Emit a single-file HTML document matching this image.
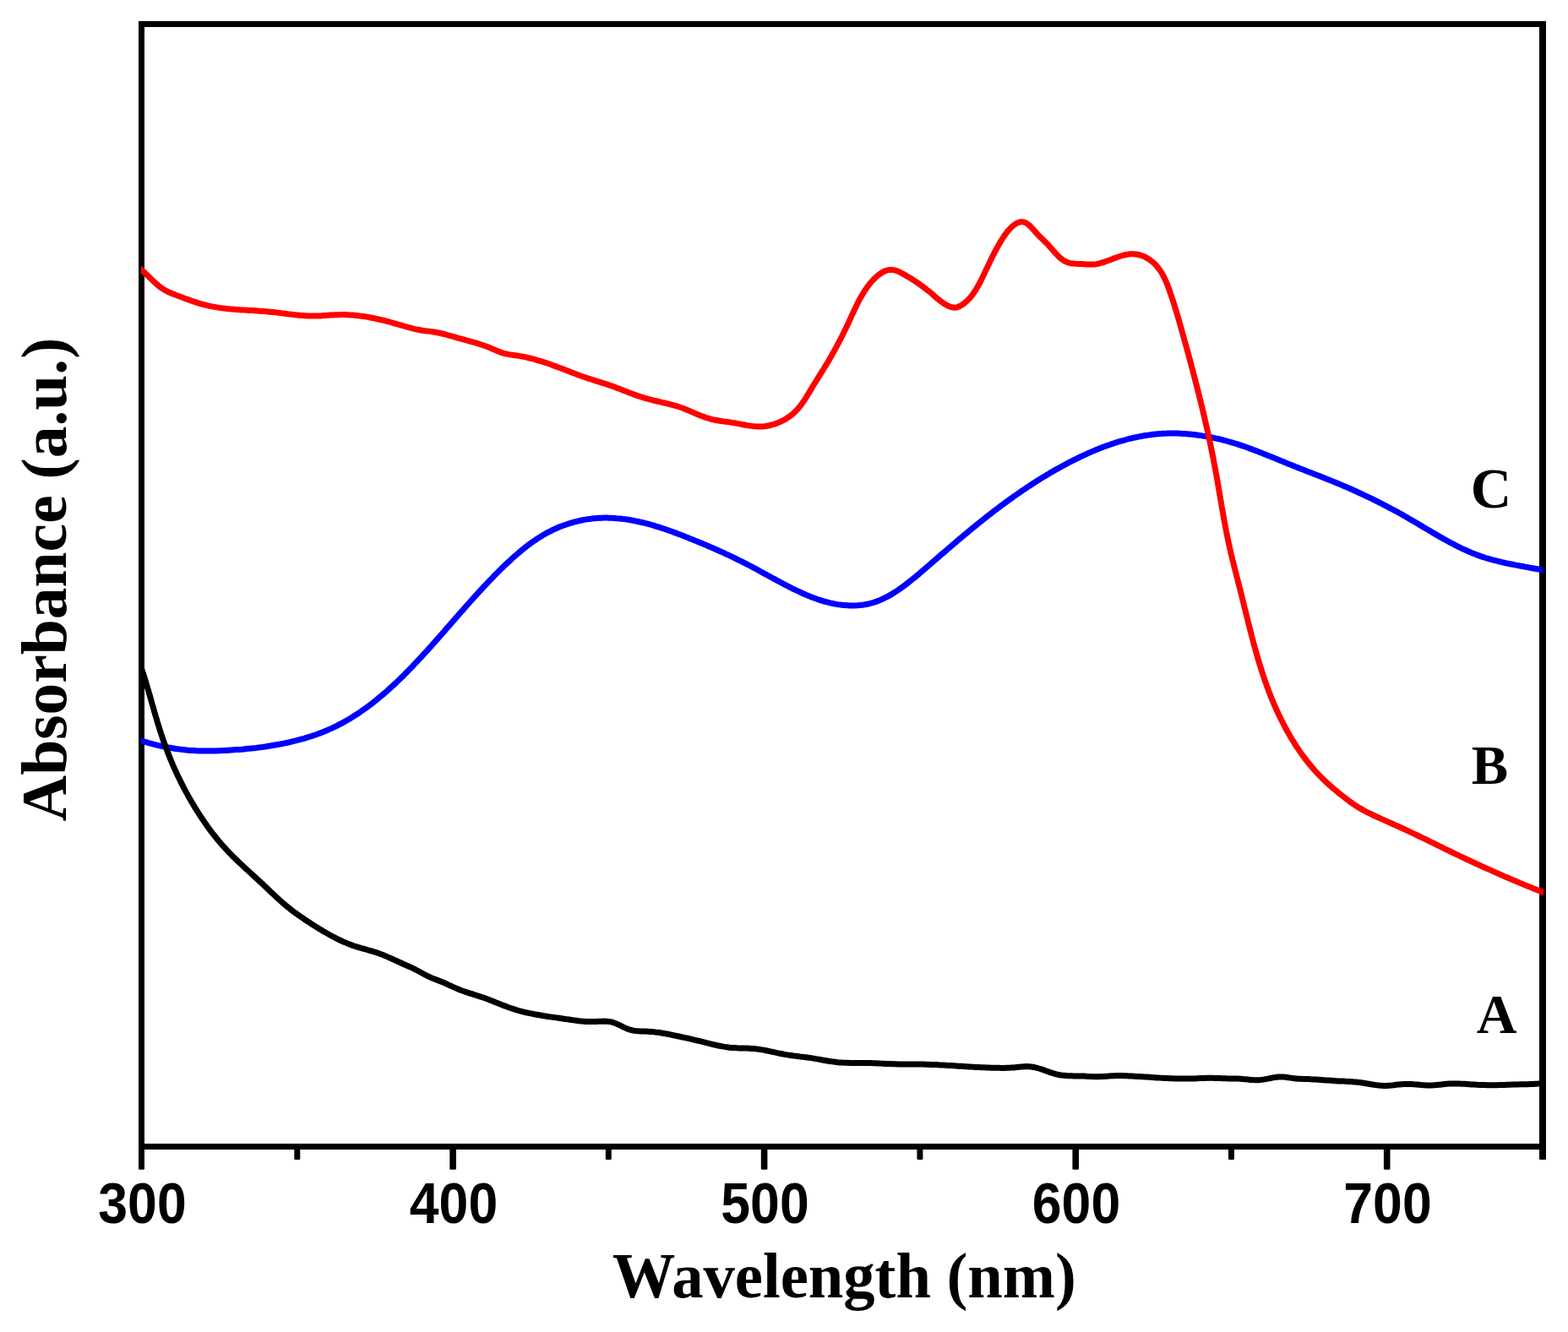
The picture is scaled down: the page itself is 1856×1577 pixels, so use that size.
<!DOCTYPE html>
<html><head><meta charset="utf-8"><style>
html,body{margin:0;padding:0;background:#fff;}
svg{display:block;}
.tk{font-family:"Liberation Sans",Arial,sans-serif;font-weight:bold;font-size:68px;}
.tt{font-family:"Liberation Serif","Times New Roman",serif;font-weight:bold;}
</style></head><body>
<svg width="1856" height="1577" viewBox="0 0 1856 1577">
<rect width="1856" height="1577" fill="#fff"/>
<g fill="#000">
<rect x="164" y="25" width="1666" height="7"/>
<rect x="164" y="1354" width="1666" height="7"/>
<rect x="164" y="25" width="7" height="1336"/>
<rect x="1822" y="25" width="8" height="1336"/>
</g>
<g fill="#000">
<rect x="164.0" y="1358" width="7.0" height="26.8" rx="1.5"/>
<rect x="348.3" y="1358" width="7.0" height="15.0" rx="1.5"/>
<rect x="532.3" y="1358" width="7.6" height="26.8" rx="1.5"/>
<rect x="716.8" y="1358" width="7.0" height="15.0" rx="1.5"/>
<rect x="900.8" y="1358" width="7.6" height="26.8" rx="1.5"/>
<rect x="1085.4" y="1358" width="7.0" height="15.0" rx="1.5"/>
<rect x="1269.4" y="1358" width="7.6" height="26.8" rx="1.5"/>
<rect x="1454.0" y="1358" width="7.0" height="15.0" rx="1.5"/>
<rect x="1637.9" y="1358" width="7.6" height="26.8" rx="1.5"/>
<rect x="1822.0" y="1358" width="8.0" height="15.0" rx="1.5"/>
</g>
<defs><clipPath id="pc"><rect x="167" y="0" width="1660" height="1577"/></clipPath></defs>
<g id="curves" clip-path="url(#pc)" fill="none" stroke-linejoin="round" stroke-linecap="butt" stroke-width="7">
<path stroke="#0000ff" d="M161.3,875.1 L167.3,877.0 L170.2,877.9 L173.1,878.7 L176.0,879.6 L178.9,880.4 L181.8,881.1 L184.7,881.9 L187.6,882.6 L190.6,883.2 L193.5,883.9 L196.4,884.4 L199.4,885.0 L202.3,885.5 L205.3,886.0 L208.2,886.5 L211.2,886.9 L214.2,887.3 L217.1,887.6 L220.1,887.9 L223.1,888.2 L226.1,888.4 L229.0,888.6 L232.0,888.8 L235.0,888.9 L238.0,889.0 L241.0,889.0 L244.0,889.1 L247.0,889.1 L249.9,889.0 L252.9,889.0 L255.9,888.9 L258.9,888.8 L261.9,888.7 L264.9,888.5 L267.9,888.4 L270.8,888.2 L273.8,888.0 L276.8,887.8 L279.8,887.6 L282.8,887.4 L285.7,887.2 L288.7,886.9 L291.7,886.6 L294.6,886.3 L297.6,886.0 L300.6,885.7 L303.5,885.4 L306.5,885.0 L309.5,884.6 L312.4,884.2 L315.4,883.8 L318.3,883.3 L321.3,882.8 L324.3,882.3 L327.2,881.8 L330.2,881.3 L333.2,880.7 L336.1,880.1 L339.1,879.5 L342.1,878.8 L345.0,878.1 L348.0,877.4 L350.9,876.7 L353.9,875.9 L356.8,875.1 L359.8,874.3 L362.7,873.4 L365.6,872.5 L368.5,871.6 L371.4,870.7 L374.3,869.7 L377.1,868.6 L380.0,867.6 L382.8,866.5 L385.6,865.3 L388.3,864.2 L391.1,862.9 L393.8,861.7 L396.5,860.4 L399.2,859.1 L401.8,857.7 L404.4,856.3 L407.1,854.9 L409.6,853.5 L412.2,852.0 L414.8,850.5 L417.3,848.9 L419.8,847.3 L422.3,845.7 L424.7,844.1 L427.2,842.4 L429.6,840.7 L432.0,839.0 L434.4,837.3 L436.8,835.5 L439.2,833.7 L441.5,831.9 L443.8,830.1 L446.1,828.2 L448.4,826.3 L450.7,824.4 L453.0,822.5 L455.2,820.6 L457.5,818.6 L459.7,816.7 L461.9,814.7 L464.1,812.7 L466.3,810.6 L468.5,808.6 L470.6,806.5 L472.8,804.5 L474.9,802.4 L477.1,800.3 L479.2,798.2 L481.3,796.0 L483.4,793.9 L485.5,791.7 L487.6,789.6 L489.6,787.4 L491.7,785.2 L493.8,783.0 L495.8,780.8 L497.9,778.6 L499.9,776.4 L501.9,774.2 L504.0,772.0 L506.0,769.8 L508.0,767.5 L510.0,765.3 L512.0,763.0 L514.0,760.8 L516.0,758.5 L518.0,756.3 L520.0,754.0 L522.0,751.8 L524.0,749.5 L526.0,747.2 L527.9,744.9 L529.9,742.7 L531.9,740.4 L533.9,738.1 L535.9,735.9 L537.9,733.6 L539.8,731.3 L541.8,729.1 L543.8,726.8 L545.8,724.5 L547.8,722.3 L549.8,720.0 L551.8,717.7 L553.8,715.5 L555.8,713.2 L557.8,711.0 L559.8,708.8 L561.8,706.5 L563.8,704.3 L565.8,702.1 L567.9,699.9 L569.9,697.6 L572.0,695.4 L574.0,693.2 L576.1,691.1 L578.1,688.9 L580.2,686.7 L582.3,684.6 L584.4,682.4 L586.5,680.3 L588.6,678.1 L590.7,676.0 L592.9,673.9 L595.0,671.8 L597.1,669.7 L599.3,667.7 L601.5,665.6 L603.7,663.6 L605.9,661.5 L608.1,659.5 L610.3,657.6 L612.6,655.6 L614.9,653.7 L617.2,651.8 L619.5,649.9 L621.8,648.0 L624.1,646.2 L626.5,644.4 L628.9,642.7 L631.3,641.0 L633.8,639.3 L636.2,637.7 L638.7,636.1 L641.2,634.5 L643.8,633.0 L646.3,631.5 L648.9,630.1 L651.6,628.8 L654.2,627.4 L656.9,626.2 L659.6,625.0 L662.4,623.8 L665.2,622.7 L668.0,621.7 L670.9,620.7 L673.7,619.8 L676.6,618.9 L679.5,618.1 L682.5,617.3 L685.4,616.6 L688.4,616.0 L691.3,615.4 L694.3,614.9 L697.3,614.5 L700.3,614.1 L703.3,613.8 L706.3,613.5 L709.3,613.3 L712.3,613.2 L715.3,613.1 L718.3,613.1 L721.3,613.2 L724.2,613.3 L727.2,613.4 L730.2,613.7 L733.2,613.9 L736.1,614.3 L739.1,614.6 L742.1,615.0 L745.0,615.5 L748.0,616.0 L750.9,616.6 L753.8,617.2 L756.8,617.8 L759.7,618.5 L762.6,619.2 L765.6,619.9 L768.5,620.7 L771.4,621.5 L774.3,622.4 L777.2,623.3 L780.1,624.2 L782.9,625.1 L785.8,626.0 L788.7,627.0 L791.5,628.0 L794.4,629.0 L797.2,630.1 L800.1,631.1 L802.9,632.2 L805.7,633.3 L808.5,634.3 L811.3,635.4 L814.1,636.6 L816.9,637.7 L819.7,638.8 L822.5,639.9 L825.2,641.1 L828.0,642.2 L830.7,643.3 L833.5,644.5 L836.2,645.6 L838.9,646.8 L841.6,648.0 L844.3,649.1 L847.0,650.3 L849.7,651.5 L852.4,652.7 L855.1,653.9 L857.8,655.2 L860.5,656.4 L863.1,657.6 L865.8,658.9 L868.5,660.2 L871.1,661.5 L873.8,662.8 L876.5,664.1 L879.1,665.4 L881.8,666.8 L884.4,668.1 L887.1,669.5 L889.7,670.9 L892.4,672.3 L895.1,673.8 L897.7,675.2 L900.4,676.7 L903.0,678.1 L905.7,679.6 L908.4,681.0 L911.0,682.5 L913.7,684.0 L916.4,685.4 L919.1,686.9 L921.8,688.3 L924.5,689.8 L927.1,691.2 L929.9,692.6 L932.6,694.0 L935.3,695.4 L938.0,696.8 L940.7,698.1 L943.5,699.4 L946.2,700.7 L949.0,702.0 L951.7,703.2 L954.5,704.4 L957.3,705.6 L960.1,706.7 L962.9,707.7 L965.7,708.8 L968.5,709.8 L971.3,710.7 L974.2,711.6 L977.0,712.4 L979.9,713.2 L982.8,713.9 L985.7,714.5 L988.6,715.1 L991.5,715.6 L994.5,716.0 L997.4,716.4 L1000.3,716.6 L1003.3,716.8 L1006.2,717.0 L1009.1,717.0 L1012.0,716.9 L1015.0,716.8 L1017.8,716.6 L1020.7,716.2 L1023.6,715.8 L1026.4,715.3 L1029.2,714.6 L1032.0,713.9 L1034.8,713.1 L1037.5,712.1 L1040.3,711.1 L1043.0,709.9 L1045.6,708.7 L1048.3,707.4 L1050.9,706.1 L1053.5,704.6 L1056.1,703.1 L1058.7,701.5 L1061.2,699.9 L1063.7,698.2 L1066.2,696.4 L1068.7,694.6 L1071.2,692.8 L1073.7,690.9 L1076.1,689.0 L1078.5,687.1 L1080.9,685.1 L1083.3,683.2 L1085.7,681.2 L1088.1,679.2 L1090.5,677.1 L1092.8,675.1 L1095.1,673.1 L1097.5,671.1 L1099.8,669.1 L1102.1,667.1 L1104.4,665.1 L1106.7,663.1 L1109.0,661.2 L1111.3,659.2 L1113.5,657.2 L1115.8,655.2 L1118.1,653.3 L1120.4,651.3 L1122.6,649.4 L1124.9,647.5 L1127.1,645.5 L1129.4,643.6 L1131.7,641.7 L1133.9,639.7 L1136.2,637.8 L1138.5,635.9 L1140.7,634.0 L1143.0,632.1 L1145.3,630.2 L1147.5,628.3 L1149.8,626.4 L1152.1,624.6 L1154.4,622.7 L1156.7,620.8 L1159.0,619.0 L1161.3,617.1 L1163.7,615.3 L1166.0,613.4 L1168.3,611.6 L1170.6,609.8 L1173.0,607.9 L1175.3,606.1 L1177.7,604.3 L1180.1,602.5 L1182.4,600.7 L1184.8,598.9 L1187.2,597.2 L1189.6,595.4 L1192.0,593.6 L1194.4,591.9 L1196.8,590.2 L1199.2,588.4 L1201.7,586.7 L1204.1,585.0 L1206.5,583.3 L1209.0,581.6 L1211.5,579.9 L1213.9,578.3 L1216.4,576.6 L1218.9,575.0 L1221.4,573.3 L1223.9,571.7 L1226.5,570.1 L1229.0,568.5 L1231.5,566.9 L1234.1,565.3 L1236.7,563.8 L1239.2,562.2 L1241.8,560.7 L1244.4,559.1 L1247.0,557.6 L1249.6,556.1 L1252.3,554.7 L1254.9,553.2 L1257.6,551.7 L1260.2,550.3 L1262.9,548.9 L1265.6,547.4 L1268.3,546.1 L1271.0,544.7 L1273.8,543.3 L1276.5,542.0 L1279.2,540.7 L1282.0,539.4 L1284.8,538.1 L1287.5,536.8 L1290.3,535.6 L1293.1,534.4 L1295.9,533.2 L1298.7,532.1 L1301.5,530.9 L1304.3,529.8 L1307.2,528.8 L1310.0,527.7 L1312.9,526.7 L1315.7,525.7 L1318.6,524.8 L1321.4,523.8 L1324.3,522.9 L1327.2,522.1 L1330.1,521.3 L1333.0,520.5 L1335.9,519.7 L1338.8,519.0 L1341.7,518.3 L1344.6,517.7 L1347.5,517.1 L1350.4,516.5 L1353.3,516.0 L1356.3,515.5 L1359.2,515.1 L1362.1,514.7 L1365.0,514.3 L1368.0,514.0 L1370.9,513.7 L1373.9,513.5 L1376.8,513.3 L1379.8,513.2 L1382.7,513.1 L1385.6,513.0 L1388.6,513.0 L1391.5,513.1 L1394.5,513.1 L1397.4,513.3 L1400.4,513.4 L1403.3,513.6 L1406.3,513.9 L1409.2,514.1 L1412.2,514.4 L1415.1,514.8 L1418.1,515.2 L1421.0,515.6 L1424.0,516.1 L1426.9,516.5 L1429.8,517.1 L1432.8,517.6 L1435.7,518.2 L1438.6,518.9 L1441.6,519.5 L1444.5,520.2 L1447.4,520.9 L1450.3,521.7 L1453.2,522.5 L1456.1,523.3 L1459.0,524.2 L1461.9,525.0 L1464.8,525.9 L1467.7,526.9 L1470.5,527.8 L1473.4,528.8 L1476.3,529.8 L1479.1,530.9 L1482.0,531.9 L1484.8,533.0 L1487.7,534.1 L1490.5,535.2 L1493.4,536.3 L1496.2,537.4 L1499.0,538.5 L1501.8,539.7 L1504.7,540.8 L1507.5,542.0 L1510.3,543.1 L1513.1,544.3 L1515.9,545.4 L1518.7,546.6 L1521.5,547.7 L1524.3,548.9 L1527.1,550.0 L1529.8,551.1 L1532.6,552.2 L1535.4,553.4 L1538.2,554.4 L1540.9,555.5 L1543.7,556.6 L1546.5,557.7 L1549.2,558.8 L1552.0,559.8 L1554.8,560.9 L1557.5,562.0 L1560.3,563.0 L1563.0,564.1 L1565.8,565.2 L1568.5,566.3 L1571.3,567.4 L1574.0,568.4 L1576.8,569.6 L1579.5,570.7 L1582.2,571.8 L1585.0,572.9 L1587.7,574.1 L1590.4,575.3 L1593.2,576.4 L1595.9,577.6 L1598.6,578.8 L1601.4,580.0 L1604.1,581.3 L1606.8,582.5 L1609.5,583.8 L1612.2,585.0 L1615.0,586.3 L1617.7,587.6 L1620.4,588.9 L1623.1,590.2 L1625.8,591.5 L1628.5,592.8 L1631.1,594.2 L1633.8,595.5 L1636.5,596.9 L1639.2,598.3 L1641.8,599.7 L1644.5,601.1 L1647.2,602.5 L1649.8,603.9 L1652.5,605.3 L1655.1,606.8 L1657.8,608.3 L1660.4,609.7 L1663.0,611.2 L1665.6,612.7 L1668.2,614.2 L1670.8,615.7 L1673.4,617.3 L1676.0,618.8 L1678.6,620.3 L1681.2,621.9 L1683.8,623.4 L1686.4,625.0 L1689.0,626.5 L1691.6,628.0 L1694.2,629.6 L1696.8,631.1 L1699.4,632.6 L1702.0,634.1 L1704.6,635.6 L1707.2,637.1 L1709.8,638.6 L1712.4,640.0 L1715.0,641.5 L1717.6,642.9 L1720.3,644.2 L1722.9,645.6 L1725.6,647.0 L1728.3,648.3 L1730.9,649.6 L1733.6,650.8 L1736.3,652.0 L1739.1,653.2 L1741.8,654.4 L1744.5,655.5 L1747.3,656.6 L1750.1,657.6 L1752.9,658.6 L1755.7,659.6 L1758.5,660.5 L1761.4,661.3 L1764.2,662.2 L1767.1,663.0 L1770.0,663.7 L1772.9,664.4 L1775.8,665.1 L1778.8,665.8 L1781.7,666.5 L1784.6,667.1 L1787.6,667.7 L1790.5,668.3 L1793.5,668.9 L1796.5,669.4 L1799.4,670.0 L1802.4,670.5 L1805.4,671.1 L1808.3,671.6 L1811.3,672.2 L1814.2,672.7 L1817.2,673.3 L1820.1,673.8 L1823.1,674.4 L1826.0,675.0 L1832.0,676.2"/>
<path stroke="#000000" d="M161.5,773.6 L167.5,791.5 L168.4,794.3 L169.4,797.1 L170.3,800.0 L171.2,802.8 L172.1,805.7 L172.9,808.5 L173.8,811.4 L174.6,814.3 L175.5,817.2 L176.3,820.1 L177.1,822.9 L178.0,825.8 L178.8,828.7 L179.6,831.6 L180.4,834.5 L181.3,837.4 L182.1,840.3 L182.9,843.2 L183.8,846.1 L184.6,849.0 L185.5,851.9 L186.3,854.8 L187.2,857.6 L188.1,860.5 L189.0,863.4 L189.9,866.2 L190.8,869.1 L191.8,871.9 L192.7,874.8 L193.7,877.6 L194.7,880.4 L195.7,883.2 L196.7,886.0 L197.8,888.8 L198.9,891.6 L200.0,894.4 L201.1,897.1 L202.2,899.9 L203.4,902.6 L204.5,905.4 L205.7,908.1 L206.9,910.8 L208.2,913.5 L209.4,916.2 L210.7,918.9 L212.0,921.6 L213.3,924.3 L214.6,927.0 L216.0,929.6 L217.3,932.3 L218.7,934.9 L220.2,937.6 L221.6,940.2 L223.0,942.8 L224.5,945.4 L226.0,948.0 L227.5,950.6 L229.1,953.2 L230.6,955.8 L232.2,958.4 L233.8,960.9 L235.4,963.5 L237.1,966.0 L238.8,968.5 L240.5,971.1 L242.2,973.6 L243.9,976.0 L245.7,978.5 L247.4,980.9 L249.2,983.4 L251.0,985.8 L252.9,988.2 L254.7,990.5 L256.6,992.9 L258.5,995.2 L260.5,997.5 L262.4,999.7 L264.4,1002.0 L266.4,1004.2 L268.4,1006.3 L270.4,1008.5 L272.5,1010.6 L274.5,1012.7 L276.6,1014.8 L278.7,1016.9 L280.8,1018.9 L283.0,1021.0 L285.1,1023.0 L287.3,1025.0 L289.4,1027.0 L291.6,1029.0 L293.8,1031.0 L296.0,1033.0 L298.2,1035.0 L300.4,1037.1 L302.6,1039.1 L304.8,1041.1 L307.0,1043.1 L309.2,1045.2 L311.4,1047.2 L313.6,1049.3 L315.8,1051.4 L318.0,1053.5 L320.2,1055.6 L322.5,1057.7 L324.7,1059.8 L326.9,1061.9 L329.1,1063.9 L331.4,1066.0 L333.6,1068.0 L335.9,1070.0 L338.1,1071.9 L340.4,1073.8 L342.7,1075.6 L345.0,1077.4 L347.4,1079.2 L349.7,1080.9 L352.1,1082.6 L354.5,1084.3 L356.9,1086.0 L359.4,1087.6 L361.8,1089.3 L364.3,1091.0 L366.9,1092.6 L369.4,1094.3 L372.0,1095.9 L374.6,1097.6 L377.2,1099.2 L379.8,1100.8 L382.5,1102.4 L385.2,1104.0 L387.9,1105.5 L390.6,1107.0 L393.3,1108.5 L396.0,1109.9 L398.7,1111.3 L401.5,1112.7 L404.2,1114.0 L407.0,1115.2 L409.8,1116.4 L412.5,1117.5 L415.3,1118.6 L418.0,1119.6 L420.8,1120.5 L423.6,1121.4 L426.3,1122.2 L429.1,1123.0 L431.8,1123.7 L434.6,1124.5 L437.3,1125.3 L440.1,1126.0 L442.8,1126.9 L445.5,1127.7 L448.3,1128.7 L451.0,1129.7 L453.8,1130.8 L456.5,1131.9 L459.2,1133.1 L462.0,1134.3 L464.7,1135.5 L467.4,1136.8 L470.2,1138.0 L472.9,1139.3 L475.7,1140.5 L478.4,1141.8 L481.1,1143.0 L483.9,1144.2 L486.6,1145.4 L489.3,1146.7 L492.1,1148.1 L494.8,1149.5 L497.6,1151.0 L500.3,1152.5 L503.1,1154.0 L505.8,1155.4 L508.5,1156.7 L511.3,1157.9 L514.1,1159.0 L516.8,1160.1 L519.6,1161.1 L522.3,1162.2 L525.1,1163.3 L527.8,1164.5 L530.6,1165.8 L533.4,1167.1 L536.1,1168.4 L538.9,1169.6 L541.7,1170.8 L544.5,1171.9 L547.3,1173.0 L550.1,1174.0 L552.8,1174.9 L555.6,1175.8 L558.4,1176.7 L561.2,1177.6 L564.0,1178.5 L566.8,1179.4 L569.7,1180.3 L572.5,1181.3 L575.3,1182.3 L578.1,1183.3 L580.9,1184.4 L583.8,1185.5 L586.6,1186.7 L589.4,1187.8 L592.3,1188.9 L595.1,1190.1 L598.0,1191.1 L600.8,1192.2 L603.7,1193.2 L606.5,1194.2 L609.4,1195.1 L612.3,1196.0 L615.1,1196.8 L618.0,1197.6 L620.9,1198.3 L623.8,1199.0 L626.7,1199.6 L629.5,1200.2 L632.4,1200.8 L635.3,1201.3 L638.2,1201.8 L641.1,1202.3 L644.0,1202.8 L647.0,1203.2 L649.9,1203.7 L652.8,1204.1 L655.7,1204.5 L658.6,1204.9 L661.6,1205.3 L664.5,1205.8 L667.4,1206.2 L670.4,1206.6 L673.3,1207.0 L676.3,1207.5 L679.2,1207.9 L682.2,1208.3 L685.2,1208.7 L688.1,1209.0 L691.1,1209.2 L694.0,1209.5 L697.0,1209.6 L700.0,1209.6 L702.9,1209.6 L705.9,1209.4 L708.8,1209.3 L711.8,1209.2 L714.7,1209.1 L717.7,1209.2 L720.6,1209.4 L723.5,1209.9 L726.5,1210.8 L729.4,1211.9 L732.3,1213.2 L735.2,1214.6 L738.1,1216.1 L741.0,1217.4 L744.0,1218.6 L746.9,1219.5 L749.8,1220.1 L752.7,1220.5 L755.6,1220.7 L758.5,1220.9 L761.4,1221.0 L764.3,1221.1 L767.2,1221.2 L770.1,1221.4 L773.0,1221.6 L775.9,1222.0 L778.8,1222.3 L781.7,1222.8 L784.6,1223.3 L787.5,1223.8 L790.4,1224.3 L793.4,1224.9 L796.3,1225.5 L799.2,1226.1 L802.1,1226.7 L805.0,1227.3 L808.0,1228.0 L810.9,1228.6 L813.8,1229.2 L816.7,1229.9 L819.7,1230.6 L822.6,1231.3 L825.5,1232.0 L828.4,1232.7 L831.4,1233.4 L834.3,1234.1 L837.2,1234.9 L840.2,1235.6 L843.1,1236.3 L846.0,1237.0 L849.0,1237.7 L851.9,1238.3 L854.9,1238.9 L857.8,1239.4 L860.7,1239.8 L863.7,1240.2 L866.6,1240.4 L869.6,1240.6 L872.5,1240.8 L875.5,1240.9 L878.4,1240.9 L881.4,1241.0 L884.3,1241.1 L887.3,1241.2 L890.3,1241.4 L893.2,1241.6 L896.2,1242.0 L899.1,1242.4 L902.1,1242.9 L905.1,1243.4 L908.0,1244.0 L911.0,1244.6 L914.0,1245.3 L916.9,1245.9 L919.9,1246.6 L922.9,1247.2 L925.8,1247.8 L928.8,1248.4 L931.8,1248.9 L934.8,1249.3 L937.7,1249.7 L940.7,1250.1 L943.7,1250.5 L946.7,1250.9 L949.6,1251.2 L952.6,1251.6 L955.6,1252.0 L958.6,1252.4 L961.6,1252.9 L964.5,1253.4 L967.5,1253.9 L970.5,1254.4 L973.5,1255.0 L976.5,1255.5 L979.5,1256.0 L982.4,1256.5 L985.4,1256.9 L988.4,1257.3 L991.4,1257.7 L994.4,1257.9 L997.4,1258.1 L1000.4,1258.2 L1003.4,1258.3 L1006.4,1258.4 L1009.3,1258.4 L1012.3,1258.4 L1015.3,1258.4 L1018.3,1258.4 L1021.3,1258.4 L1024.3,1258.4 L1027.3,1258.5 L1030.3,1258.5 L1033.3,1258.7 L1036.3,1258.8 L1039.2,1258.9 L1042.2,1259.1 L1045.2,1259.2 L1048.2,1259.4 L1051.2,1259.5 L1054.2,1259.6 L1057.2,1259.7 L1060.2,1259.8 L1063.2,1259.9 L1066.2,1259.9 L1069.2,1259.9 L1072.1,1259.9 L1075.1,1259.9 L1078.1,1259.9 L1081.1,1260.0 L1084.1,1260.0 L1087.1,1260.0 L1090.1,1260.0 L1093.1,1260.1 L1096.1,1260.2 L1099.0,1260.3 L1102.0,1260.4 L1105.0,1260.5 L1108.0,1260.6 L1111.0,1260.8 L1114.0,1260.9 L1116.9,1261.1 L1119.9,1261.3 L1122.9,1261.4 L1125.9,1261.6 L1128.9,1261.8 L1131.8,1262.0 L1134.8,1262.2 L1137.8,1262.3 L1140.8,1262.5 L1143.8,1262.7 L1146.7,1262.9 L1149.7,1263.1 L1152.7,1263.2 L1155.6,1263.4 L1158.6,1263.5 L1161.6,1263.7 L1164.6,1263.8 L1167.5,1264.0 L1170.5,1264.1 L1173.5,1264.2 L1176.4,1264.2 L1179.4,1264.3 L1182.4,1264.3 L1185.3,1264.4 L1188.3,1264.4 L1191.2,1264.3 L1194.2,1264.3 L1197.2,1264.1 L1200.1,1263.9 L1203.1,1263.6 L1206.1,1263.3 L1209.0,1263.0 L1212.0,1262.7 L1214.9,1262.6 L1217.9,1262.7 L1220.9,1263.0 L1223.8,1263.5 L1226.8,1264.1 L1229.7,1265.0 L1232.7,1265.9 L1235.7,1266.9 L1238.6,1268.0 L1241.6,1269.1 L1244.6,1270.1 L1247.5,1271.0 L1250.5,1271.8 L1253.4,1272.5 L1256.4,1273.0 L1259.4,1273.3 L1262.3,1273.6 L1265.3,1273.7 L1268.3,1273.8 L1271.2,1273.9 L1274.2,1273.9 L1277.2,1273.9 L1280.2,1274.0 L1283.1,1274.1 L1286.1,1274.3 L1289.1,1274.4 L1292.1,1274.6 L1295.0,1274.7 L1298.0,1274.8 L1301.0,1274.8 L1304.0,1274.6 L1306.9,1274.4 L1309.9,1274.2 L1312.9,1274.0 L1315.9,1273.8 L1318.9,1273.7 L1321.8,1273.6 L1324.8,1273.6 L1327.8,1273.6 L1330.8,1273.7 L1333.8,1273.8 L1336.8,1273.9 L1339.8,1274.0 L1342.7,1274.2 L1345.7,1274.4 L1348.7,1274.5 L1351.7,1274.7 L1354.7,1274.9 L1357.7,1275.1 L1360.7,1275.3 L1363.6,1275.5 L1366.6,1275.7 L1369.6,1275.9 L1372.6,1276.1 L1375.6,1276.2 L1378.6,1276.4 L1381.6,1276.5 L1384.6,1276.7 L1387.6,1276.8 L1390.5,1276.9 L1393.5,1277.0 L1396.5,1277.1 L1399.5,1277.1 L1402.5,1277.1 L1405.5,1277.1 L1408.5,1277.0 L1411.5,1277.0 L1414.4,1276.9 L1417.4,1276.7 L1420.4,1276.6 L1423.4,1276.5 L1426.4,1276.4 L1429.4,1276.3 L1432.4,1276.3 L1435.3,1276.3 L1438.3,1276.4 L1441.3,1276.5 L1444.3,1276.6 L1447.3,1276.7 L1450.3,1276.8 L1453.2,1276.9 L1456.2,1276.9 L1459.2,1277.0 L1462.2,1277.0 L1465.2,1277.1 L1468.1,1277.3 L1471.1,1277.6 L1474.1,1277.8 L1477.1,1278.1 L1480.1,1278.4 L1483.1,1278.6 L1486.0,1278.7 L1489.0,1278.7 L1492.0,1278.5 L1495.0,1278.1 L1498.0,1277.6 L1500.9,1277.1 L1503.9,1276.5 L1506.9,1275.9 L1509.9,1275.4 L1512.8,1275.1 L1515.8,1274.9 L1518.8,1275.0 L1521.8,1275.3 L1524.8,1275.7 L1527.7,1276.1 L1530.7,1276.6 L1533.7,1276.9 L1536.7,1277.2 L1539.6,1277.3 L1542.6,1277.4 L1545.6,1277.5 L1548.6,1277.6 L1551.6,1277.8 L1554.5,1277.9 L1557.5,1278.1 L1560.5,1278.3 L1563.5,1278.5 L1566.4,1278.7 L1569.4,1278.9 L1572.4,1279.1 L1575.4,1279.3 L1578.4,1279.5 L1581.3,1279.7 L1584.3,1279.9 L1587.3,1280.0 L1590.3,1280.1 L1593.2,1280.3 L1596.2,1280.4 L1599.2,1280.6 L1602.2,1280.9 L1605.1,1281.1 L1608.1,1281.4 L1611.1,1281.8 L1614.1,1282.2 L1617.1,1282.7 L1620.0,1283.2 L1623.0,1283.7 L1626.0,1284.2 L1629.0,1284.6 L1631.9,1285.0 L1634.9,1285.2 L1637.9,1285.4 L1640.9,1285.4 L1643.9,1285.2 L1646.8,1285.0 L1649.8,1284.7 L1652.8,1284.3 L1655.8,1284.0 L1658.8,1283.7 L1661.7,1283.5 L1664.7,1283.4 L1667.7,1283.4 L1670.7,1283.5 L1673.7,1283.8 L1676.6,1284.0 L1679.6,1284.3 L1682.6,1284.6 L1685.6,1284.8 L1688.6,1285.0 L1691.5,1285.0 L1694.5,1284.9 L1697.5,1284.8 L1700.5,1284.5 L1703.5,1284.2 L1706.4,1283.9 L1709.4,1283.6 L1712.4,1283.3 L1715.4,1283.1 L1718.4,1283.0 L1721.4,1282.9 L1724.3,1282.9 L1727.3,1283.0 L1730.3,1283.2 L1733.3,1283.3 L1736.3,1283.5 L1739.3,1283.7 L1742.3,1283.9 L1745.2,1284.1 L1748.2,1284.3 L1751.2,1284.4 L1754.2,1284.5 L1757.2,1284.6 L1760.2,1284.7 L1763.2,1284.7 L1766.2,1284.7 L1769.1,1284.7 L1772.1,1284.7 L1775.1,1284.6 L1778.1,1284.5 L1781.1,1284.4 L1784.1,1284.3 L1787.1,1284.2 L1790.1,1284.1 L1793.1,1284.0 L1796.1,1283.9 L1799.1,1283.8 L1802.0,1283.8 L1805.0,1283.7 L1808.0,1283.7 L1811.0,1283.5 L1814.0,1283.4 L1817.0,1283.2 L1820.0,1283.0 L1823.0,1282.7 L1826.0,1282.3 L1832.0,1281.5"/>
<path stroke="#ff0000" d="M161.3,314.4 L167.3,319.4 L169.3,321.1 L171.4,322.9 L173.5,325.0 L175.7,327.1 L177.9,329.3 L180.2,331.5 L182.5,333.7 L184.9,335.9 L187.3,338.0 L189.7,340.0 L192.2,341.7 L194.8,343.3 L197.3,344.7 L199.9,346.0 L202.6,347.1 L205.3,348.1 L208.0,349.2 L210.7,350.2 L213.5,351.3 L216.2,352.3 L219.1,353.4 L221.9,354.4 L224.7,355.4 L227.6,356.5 L230.5,357.4 L233.4,358.4 L236.3,359.3 L239.2,360.1 L242.1,360.9 L245.0,361.6 L247.9,362.3 L250.9,362.9 L253.8,363.4 L256.7,363.9 L259.7,364.4 L262.6,364.8 L265.6,365.1 L268.6,365.5 L271.5,365.8 L274.5,366.0 L277.5,366.3 L280.5,366.5 L283.4,366.7 L286.4,366.9 L289.4,367.1 L292.4,367.3 L295.4,367.5 L298.4,367.6 L301.4,367.8 L304.4,368.0 L307.3,368.2 L310.3,368.4 L313.3,368.6 L316.3,368.9 L319.3,369.2 L322.3,369.5 L325.3,369.8 L328.3,370.1 L331.3,370.5 L334.3,370.9 L337.3,371.3 L340.3,371.7 L343.3,372.0 L346.3,372.4 L349.3,372.8 L352.3,373.1 L355.3,373.4 L358.2,373.6 L361.2,373.8 L364.2,374.0 L367.2,374.1 L370.2,374.1 L373.2,374.1 L376.2,374.0 L379.2,373.9 L382.1,373.7 L385.1,373.5 L388.1,373.3 L391.1,373.1 L394.1,372.9 L397.0,372.8 L400.0,372.7 L403.0,372.6 L406.0,372.6 L408.9,372.6 L411.9,372.8 L414.9,372.9 L417.8,373.1 L420.8,373.4 L423.8,373.7 L426.7,374.1 L429.7,374.5 L432.6,374.9 L435.6,375.4 L438.6,376.0 L441.5,376.5 L444.5,377.2 L447.4,377.8 L450.4,378.5 L453.3,379.2 L456.3,379.9 L459.2,380.7 L462.1,381.5 L465.1,382.3 L468.0,383.1 L471.0,384.0 L473.9,384.8 L476.8,385.7 L479.7,386.5 L482.7,387.4 L485.6,388.1 L488.5,388.9 L491.4,389.6 L494.4,390.2 L497.3,390.8 L500.2,391.3 L503.1,391.7 L506.0,392.0 L508.9,392.4 L511.8,392.8 L514.7,393.2 L517.6,393.7 L520.5,394.3 L523.4,395.0 L526.3,395.7 L529.2,396.5 L532.1,397.3 L535.0,398.1 L537.9,398.9 L540.8,399.8 L543.7,400.6 L546.6,401.4 L549.5,402.2 L552.4,403.0 L555.3,403.8 L558.1,404.6 L561.0,405.4 L563.9,406.2 L566.8,407.1 L569.6,408.0 L572.5,409.0 L575.4,410.0 L578.3,411.1 L581.1,412.3 L584.0,413.6 L586.9,414.8 L589.8,416.0 L592.6,417.1 L595.5,418.1 L598.3,418.8 L601.2,419.4 L604.1,419.9 L606.9,420.3 L609.8,420.7 L612.7,421.1 L615.5,421.6 L618.4,422.1 L621.2,422.7 L624.1,423.3 L626.9,424.0 L629.8,424.7 L632.6,425.4 L635.5,426.3 L638.4,427.1 L641.2,428.0 L644.1,428.9 L646.9,429.8 L649.7,430.8 L652.6,431.8 L655.4,432.9 L658.3,433.9 L661.1,435.0 L664.0,436.0 L666.8,437.1 L669.7,438.2 L672.5,439.3 L675.4,440.4 L678.2,441.5 L681.0,442.6 L683.9,443.7 L686.7,444.7 L689.6,445.7 L692.4,446.7 L695.2,447.7 L698.1,448.6 L700.9,449.5 L703.8,450.4 L706.6,451.3 L709.4,452.2 L712.3,453.1 L715.1,454.0 L718.0,454.9 L720.8,455.9 L723.6,456.8 L726.5,457.8 L729.3,458.9 L732.1,460.0 L735.0,461.1 L737.8,462.2 L740.7,463.3 L743.5,464.4 L746.3,465.5 L749.2,466.6 L752.0,467.6 L754.9,468.6 L757.7,469.5 L760.5,470.4 L763.4,471.3 L766.2,472.1 L769.0,472.9 L771.9,473.6 L774.7,474.3 L777.6,475.0 L780.4,475.7 L783.3,476.4 L786.1,477.0 L788.9,477.7 L791.8,478.4 L794.6,479.1 L797.5,479.8 L800.3,480.6 L803.2,481.5 L806.1,482.5 L808.9,483.5 L811.8,484.7 L814.6,485.9 L817.5,487.1 L820.4,488.4 L823.2,489.6 L826.1,490.8 L829.0,492.0 L831.9,493.1 L834.7,494.1 L837.6,495.0 L840.5,495.9 L843.4,496.6 L846.3,497.2 L849.2,497.7 L852.1,498.2 L855.0,498.7 L857.9,499.1 L860.8,499.5 L863.7,499.9 L866.6,500.4 L869.6,500.8 L872.5,501.4 L875.4,501.9 L878.4,502.5 L881.3,503.0 L884.2,503.6 L887.2,504.0 L890.2,504.4 L893.1,504.7 L896.1,504.9 L899.1,505.0 L902.0,504.9 L905.0,504.7 L908.0,504.2 L910.9,503.7 L913.9,502.9 L916.8,502.1 L919.7,501.1 L922.5,499.9 L925.2,498.6 L928.0,497.2 L930.6,495.7 L933.1,494.0 L935.6,492.3 L938.0,490.4 L940.2,488.4 L942.4,486.3 L944.4,484.1 L946.3,481.8 L948.2,479.5 L949.9,477.1 L951.6,474.6 L953.2,472.1 L954.8,469.6 L956.4,467.0 L957.9,464.4 L959.4,461.9 L961.0,459.3 L962.5,456.7 L964.1,454.2 L965.7,451.7 L967.3,449.1 L968.8,446.6 L970.4,444.1 L972.0,441.5 L973.6,439.0 L975.1,436.5 L976.7,433.9 L978.3,431.3 L979.8,428.8 L981.3,426.2 L982.8,423.6 L984.3,421.0 L985.8,418.3 L987.3,415.7 L988.7,413.1 L990.2,410.4 L991.6,407.7 L993.0,405.1 L994.4,402.4 L995.8,399.7 L997.1,397.0 L998.5,394.3 L999.8,391.6 L1001.1,388.9 L1002.4,386.2 L1003.7,383.5 L1004.9,380.8 L1006.2,378.1 L1007.4,375.4 L1008.6,372.7 L1009.9,370.1 L1011.1,367.4 L1012.4,364.7 L1013.7,362.0 L1015.0,359.4 L1016.3,356.7 L1017.7,354.1 L1019.2,351.5 L1020.7,348.9 L1022.2,346.3 L1023.9,343.7 L1025.6,341.2 L1027.4,338.7 L1029.2,336.3 L1031.2,334.0 L1033.3,331.7 L1035.4,329.5 L1037.7,327.4 L1040.1,325.4 L1042.6,323.6 L1045.2,322.0 L1047.8,320.8 L1050.5,319.9 L1053.2,319.4 L1056.0,319.4 L1058.8,319.9 L1061.6,320.7 L1064.4,321.9 L1067.2,323.3 L1070.0,324.8 L1072.7,326.4 L1075.4,328.0 L1078.0,329.6 L1080.6,331.2 L1083.0,332.8 L1085.4,334.4 L1087.8,336.0 L1090.1,337.7 L1092.4,339.4 L1094.7,341.1 L1097.0,342.9 L1099.4,344.7 L1101.7,346.7 L1104.1,348.7 L1106.5,350.8 L1109.0,353.0 L1111.5,355.0 L1114.0,357.0 L1116.6,358.9 L1119.2,360.5 L1121.9,362.0 L1124.5,363.1 L1127.2,363.8 L1129.9,364.2 L1132.6,363.9 L1135.3,362.9 L1137.8,361.5 L1140.2,359.9 L1142.5,358.2 L1144.7,356.2 L1146.8,354.1 L1148.8,351.9 L1150.6,349.5 L1152.4,347.1 L1154.1,344.5 L1155.8,341.9 L1157.3,339.2 L1158.8,336.5 L1160.3,333.8 L1161.7,331.0 L1163.0,328.3 L1164.3,325.5 L1165.6,322.8 L1166.9,320.1 L1168.2,317.4 L1169.4,314.8 L1170.7,312.2 L1171.9,309.5 L1173.2,306.9 L1174.5,304.3 L1175.8,301.7 L1177.1,299.1 L1178.5,296.5 L1179.9,293.8 L1181.4,291.2 L1182.9,288.6 L1184.5,285.9 L1186.2,283.2 L1187.9,280.5 L1189.7,277.8 L1191.6,275.3 L1193.6,272.8 L1195.7,270.5 L1197.8,268.4 L1200.0,266.6 L1202.3,265.0 L1204.7,263.7 L1207.1,262.9 L1209.6,262.6 L1212.0,262.9 L1214.5,263.9 L1216.8,265.5 L1219.1,267.5 L1221.4,269.9 L1223.7,272.4 L1225.9,274.9 L1228.1,277.3 L1230.2,279.5 L1232.4,281.7 L1234.5,283.7 L1236.6,285.8 L1238.6,287.8 L1240.7,289.9 L1242.7,292.2 L1244.7,294.5 L1246.8,296.8 L1248.8,299.1 L1250.9,301.4 L1253.1,303.6 L1255.3,305.6 L1257.6,307.4 L1260.0,309.0 L1262.5,310.2 L1265.1,311.2 L1267.9,311.8 L1270.7,312.1 L1273.6,312.3 L1276.7,312.4 L1279.7,312.5 L1282.8,312.7 L1285.9,312.9 L1289.0,313.1 L1292.1,313.1 L1295.1,313.0 L1298.0,312.6 L1301.0,312.0 L1303.9,311.2 L1306.7,310.3 L1309.6,309.3 L1312.5,308.3 L1315.3,307.2 L1318.2,306.1 L1321.1,305.0 L1324.1,304.0 L1327.0,303.0 L1329.9,302.2 L1332.9,301.5 L1335.8,301.1 L1338.7,300.8 L1341.6,300.7 L1344.5,301.0 L1347.3,301.5 L1350.1,302.2 L1352.8,303.1 L1355.4,304.3 L1358.0,305.7 L1360.5,307.2 L1362.8,309.0 L1365.1,310.9 L1367.3,312.9 L1369.3,315.1 L1371.2,317.5 L1373.0,319.9 L1374.7,322.4 L1376.2,325.1 L1377.6,327.8 L1378.9,330.5 L1380.2,333.4 L1381.4,336.2 L1382.5,339.1 L1383.6,342.0 L1384.6,344.9 L1385.6,347.8 L1386.6,350.7 L1387.6,353.6 L1388.5,356.4 L1389.4,359.3 L1390.4,362.2 L1391.2,365.1 L1392.1,367.9 L1393.0,370.8 L1393.8,373.6 L1394.7,376.5 L1395.5,379.4 L1396.3,382.2 L1397.1,385.1 L1397.9,387.9 L1398.7,390.8 L1399.5,393.7 L1400.3,396.5 L1401.1,399.4 L1401.9,402.3 L1402.7,405.1 L1403.5,408.0 L1404.3,410.9 L1405.1,413.8 L1405.9,416.7 L1406.6,419.5 L1407.4,422.4 L1408.2,425.3 L1409.0,428.2 L1409.8,431.1 L1410.5,434.0 L1411.3,436.9 L1412.1,439.8 L1412.8,442.7 L1413.6,445.6 L1414.3,448.5 L1415.1,451.4 L1415.8,454.3 L1416.6,457.2 L1417.3,460.2 L1418.1,463.1 L1418.8,466.0 L1419.5,468.9 L1420.2,471.8 L1421.0,474.7 L1421.7,477.7 L1422.4,480.6 L1423.1,483.5 L1423.8,486.4 L1424.5,489.4 L1425.2,492.3 L1425.9,495.2 L1426.5,498.1 L1427.2,501.1 L1427.9,504.0 L1428.6,506.9 L1429.2,509.9 L1429.9,512.8 L1430.5,515.7 L1431.1,518.7 L1431.8,521.6 L1432.4,524.6 L1433.0,527.5 L1433.6,530.4 L1434.2,533.4 L1434.8,536.3 L1435.4,539.3 L1436.0,542.2 L1436.6,545.2 L1437.1,548.1 L1437.7,551.0 L1438.2,554.0 L1438.8,556.9 L1439.3,559.9 L1439.9,562.8 L1440.4,565.8 L1440.9,568.7 L1441.4,571.7 L1441.9,574.6 L1442.4,577.6 L1442.9,580.5 L1443.4,583.4 L1443.9,586.4 L1444.4,589.3 L1444.9,592.3 L1445.4,595.2 L1445.9,598.2 L1446.4,601.1 L1447.0,604.1 L1447.5,607.0 L1448.0,610.0 L1448.5,612.9 L1449.0,615.9 L1449.6,618.8 L1450.1,621.7 L1450.7,624.7 L1451.2,627.6 L1451.8,630.6 L1452.4,633.5 L1453.0,636.4 L1453.6,639.4 L1454.2,642.3 L1454.9,645.3 L1455.5,648.2 L1456.2,651.1 L1456.8,654.1 L1457.5,657.0 L1458.2,659.9 L1458.9,662.9 L1459.7,665.8 L1460.4,668.7 L1461.1,671.7 L1461.9,674.6 L1462.6,677.5 L1463.4,680.4 L1464.1,683.4 L1464.9,686.3 L1465.6,689.2 L1466.4,692.1 L1467.1,695.1 L1467.9,698.0 L1468.6,700.9 L1469.3,703.8 L1470.1,706.7 L1470.8,709.6 L1471.5,712.5 L1472.2,715.4 L1472.9,718.3 L1473.7,721.3 L1474.4,724.2 L1475.1,727.1 L1475.8,730.0 L1476.5,732.8 L1477.2,735.7 L1478.0,738.6 L1478.7,741.5 L1479.4,744.4 L1480.2,747.3 L1480.9,750.2 L1481.6,753.1 L1482.4,755.9 L1483.2,758.8 L1483.9,761.7 L1484.7,764.6 L1485.5,767.4 L1486.3,770.3 L1487.1,773.2 L1487.9,776.0 L1488.7,778.9 L1489.6,781.7 L1490.4,784.6 L1491.3,787.4 L1492.2,790.3 L1493.1,793.1 L1494.0,796.0 L1494.9,798.8 L1495.9,801.7 L1496.8,804.5 L1497.8,807.3 L1498.8,810.2 L1499.8,813.0 L1500.9,815.8 L1501.9,818.6 L1503.0,821.4 L1504.1,824.3 L1505.3,827.1 L1506.4,829.9 L1507.6,832.7 L1508.8,835.5 L1510.0,838.2 L1511.3,841.0 L1512.6,843.8 L1513.8,846.5 L1515.2,849.3 L1516.5,852.0 L1517.9,854.7 L1519.3,857.4 L1520.7,860.1 L1522.1,862.8 L1523.6,865.5 L1525.1,868.1 L1526.6,870.8 L1528.1,873.4 L1529.7,876.0 L1531.3,878.5 L1532.9,881.1 L1534.5,883.6 L1536.2,886.1 L1537.9,888.6 L1539.6,891.1 L1541.3,893.5 L1543.1,895.9 L1544.9,898.3 L1546.7,900.7 L1548.5,903.0 L1550.4,905.3 L1552.3,907.6 L1554.2,909.8 L1556.1,912.0 L1558.1,914.2 L1560.1,916.3 L1562.1,918.4 L1564.2,920.5 L1566.3,922.6 L1568.4,924.6 L1570.5,926.6 L1572.7,928.6 L1574.9,930.6 L1577.1,932.5 L1579.3,934.4 L1581.6,936.3 L1583.9,938.2 L1586.2,940.1 L1588.6,942.0 L1591.0,943.8 L1593.4,945.7 L1595.8,947.5 L1598.3,949.3 L1600.8,951.1 L1603.3,952.8 L1605.9,954.5 L1608.4,956.1 L1611.0,957.6 L1613.6,959.1 L1616.2,960.5 L1618.8,961.9 L1621.5,963.2 L1624.2,964.5 L1626.8,965.7 L1629.5,967.0 L1632.2,968.2 L1634.9,969.4 L1637.6,970.6 L1640.4,971.9 L1643.1,973.1 L1645.8,974.3 L1648.6,975.5 L1651.3,976.8 L1654.1,978.0 L1656.8,979.2 L1659.6,980.5 L1662.3,981.7 L1665.0,983.0 L1667.8,984.3 L1670.5,985.6 L1673.2,986.9 L1675.9,988.1 L1678.7,989.5 L1681.4,990.8 L1684.1,992.1 L1686.8,993.4 L1689.5,994.7 L1692.2,996.1 L1694.9,997.4 L1697.6,998.7 L1700.3,1000.1 L1703.0,1001.4 L1705.7,1002.7 L1708.4,1004.0 L1711.1,1005.4 L1713.8,1006.7 L1716.5,1008.0 L1719.2,1009.3 L1721.9,1010.6 L1724.6,1011.9 L1727.3,1013.2 L1730.0,1014.5 L1732.7,1015.7 L1735.4,1017.0 L1738.1,1018.3 L1740.8,1019.5 L1743.5,1020.8 L1746.2,1022.0 L1748.9,1023.3 L1751.6,1024.5 L1754.3,1025.8 L1757.0,1027.0 L1759.7,1028.2 L1762.4,1029.4 L1765.2,1030.7 L1767.9,1031.9 L1770.6,1033.1 L1773.3,1034.3 L1776.1,1035.5 L1778.8,1036.7 L1781.5,1037.9 L1784.3,1039.0 L1787.0,1040.2 L1789.8,1041.4 L1792.5,1042.6 L1795.3,1043.7 L1798.0,1044.9 L1800.8,1046.1 L1803.6,1047.2 L1806.4,1048.4 L1809.2,1049.5 L1811.9,1050.6 L1814.7,1051.8 L1817.6,1052.9 L1820.4,1054.0 L1823.2,1055.1 L1826.0,1056.2 L1832.0,1058.6"/>
</g>
<g class="tk" text-anchor="middle" fill="#000">
<text transform="translate(168.5,1447.5) scale(0.92,1)">300</text>
<text transform="translate(537,1447.5) scale(0.92,1)">400</text>
<text transform="translate(905.5,1447.5) scale(0.92,1)">500</text>
<text transform="translate(1274,1447.5) scale(0.92,1)">600</text>
<text transform="translate(1642.5,1447.5) scale(0.92,1)">700</text>
</g>
<text class="tt" transform="translate(999.3,1535.5) scale(0.969,1)" font-size="77" text-anchor="middle">Wavelength (nm)</text>
<text class="tt" transform="translate(78,686) rotate(-90) scale(0.981,1)" font-size="77" text-anchor="middle">Absorbance (a.u.)</text>
<text class="tt" x="1765" y="601" font-size="67" text-anchor="middle">C</text>
<text class="tt" x="1763.5" y="928" font-size="65" text-anchor="middle">B</text>
<text class="tt" x="1771.5" y="1222.5" font-size="66" text-anchor="middle">A</text>
</svg>
</body></html>
